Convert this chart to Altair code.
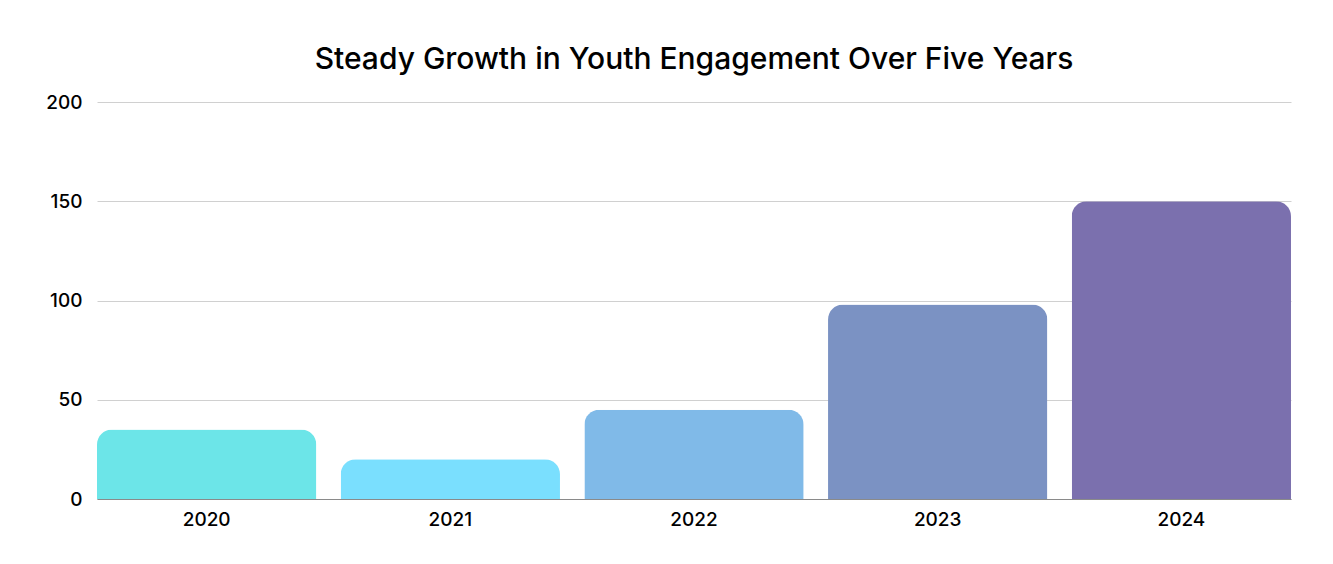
import altair as alt
import pandas as pd

years = ["2020", "2021", "2022", "2023", "2024"]
values = [35, 20, 45, 98, 150]
colors = ["#6CE5E8", "#7ADFFE", "#80BAE8", "#7B92C3", "#7B70AE"]

df = pd.DataFrame({"year": years, "value": values})

chart = alt.Chart(df).mark_bar(
    cornerRadiusTopLeft=15, cornerRadiusTopRight=15
).encode(
    x=alt.X("year:N", sort=years,
            scale=alt.Scale(paddingInner=0.1, paddingOuter=0),
            axis=alt.Axis(title=None, labelAngle=0, ticks=False, domain=True,
                          domainColor="#8a8a8a", labelFontSize=19,
                          labelFont="Inter", labelFontWeight=500,
                          labelColor="#000", labelPadding=11)),
    y=alt.Y("value:Q", scale=alt.Scale(domain=[0, 200]),
            axis=alt.Axis(title=None, values=[0, 50, 100, 150, 200], ticks=False,
                          domain=False, gridColor="#d0d0d0", labelFontSize=19,
                          labelFont="Inter", labelFontWeight=500,
                          labelColor="#000", labelPadding=15)),
    color=alt.Color("year:N", scale=alt.Scale(domain=years, range=colors), legend=None),
).properties(
    width=1194, height=397,
    background="white",
    title=alt.TitleParams("Steady Growth in Youth Engagement Over Five Years",
                          font="Inter", fontSize=30, fontWeight=500,
                          color="#000", anchor="middle", offset=18),
    autosize=alt.AutoSizeParams(type="none"),
    padding={"left": 89, "top": 94, "right": 34, "bottom": 50},
).configure_view(strokeWidth=0, stroke="transparent")

chart.save("out.html", embed_options={"renderer": "svg", "actions": False})
